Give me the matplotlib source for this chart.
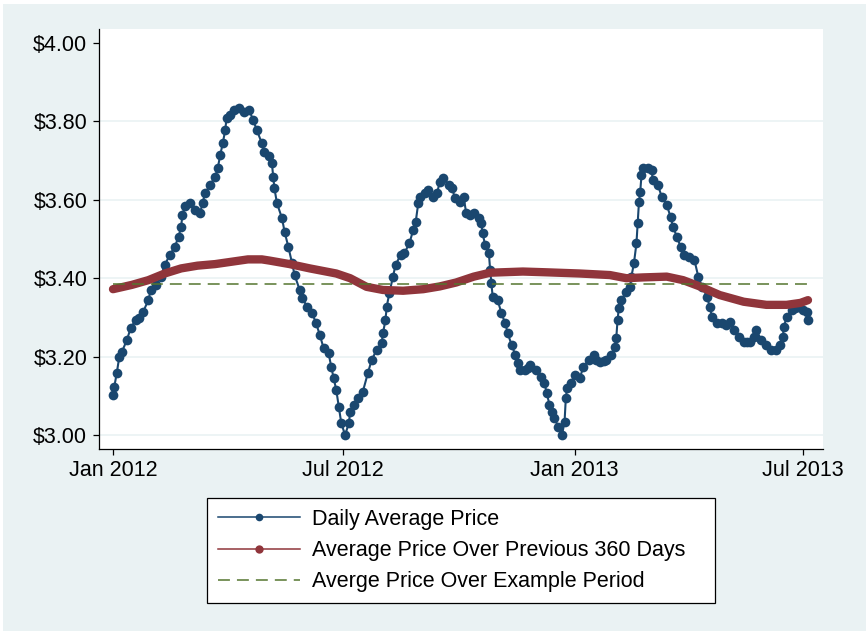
import matplotlib
matplotlib.use("Agg")
import matplotlib.pyplot as plt
import matplotlib.dates as mdates
from matplotlib.lines import Line2D
from matplotlib.patches import Rectangle
from matplotlib.ticker import FuncFormatter
import pandas as pd

plt.rcParams['font.family'] = ['Liberation Sans', 'DejaVu Sans']

start_date = "2012-01-01"

# Daily average price: day offset from start, price
daily_days = [0, 1, 3, 5, 7, 11, 14, 18, 21, 24, 28, 30, 34, 38, 41, 45, 49, 52, 54, 55,
              57, 61, 65, 69, 71, 73, 77, 81, 83, 85, 87, 89, 90, 93, 96, 100, 104, 108, 111, 114,
              118, 120, 124, 126, 127, 128, 130, 134, 136, 139, 142, 144, 148, 150, 154, 158, 161, 164, 167, 171,
              173, 175, 177, 179, 181, 184, 187, 188, 191, 194, 198, 202, 205, 209, 213, 214, 216, 217, 219, 222,
              224, 228, 231, 235, 238, 240, 242, 243, 247, 250, 254, 257, 259, 262, 266, 269, 271, 275, 278, 280,
              283, 286, 290, 292, 293, 295, 298, 299, 300, 301, 305, 308, 311, 313, 316, 319, 321, 323, 327, 329,
              331, 335, 339, 342, 344, 346, 348, 350, 353, 356, 358, 359, 360, 363, 366, 370, 373, 377, 381, 383,
              386, 389, 391, 395, 398, 399, 400, 401, 403, 407, 410, 411, 413, 415, 416, 417, 418, 419, 420, 424,
              427, 428, 432, 435, 439, 442, 444, 447, 450, 453, 457, 461, 464, 467, 471, 473, 475, 479, 483, 486,
              489, 492, 496, 500, 503, 505, 508, 510, 514, 518, 522, 526, 529, 531, 532, 534, 538, 541, 543, 547,
              550, 551]
daily_price = [3.102, 3.123, 3.158, 3.200, 3.212, 3.242, 3.273, 3.293, 3.298, 3.315, 3.344, 3.370, 3.383, 3.404, 3.434, 3.459, 3.480, 3.506, 3.531, 3.561,
               3.584, 3.591, 3.574, 3.566, 3.591, 3.617, 3.638, 3.659, 3.680, 3.714, 3.744, 3.778, 3.808, 3.816, 3.829, 3.833, 3.825, 3.829, 3.804, 3.778,
               3.744, 3.723, 3.712, 3.693, 3.659, 3.629, 3.591, 3.553, 3.519, 3.480, 3.438, 3.408, 3.370, 3.349, 3.327, 3.310, 3.285, 3.255, 3.221, 3.208,
               3.174, 3.145, 3.115, 3.072, 3.030, 3.000, 3.030, 3.059, 3.077, 3.094, 3.110, 3.157, 3.191, 3.217, 3.234, 3.259, 3.293, 3.327, 3.361, 3.404,
               3.434, 3.459, 3.464, 3.489, 3.523, 3.544, 3.591, 3.608, 3.617, 3.625, 3.608, 3.617, 3.646, 3.655, 3.638, 3.629, 3.604, 3.595, 3.608, 3.566,
               3.561, 3.566, 3.553, 3.540, 3.515, 3.485, 3.464, 3.421, 3.387, 3.353, 3.344, 3.310, 3.285, 3.259, 3.230, 3.204, 3.183, 3.166, 3.166, 3.170,
               3.179, 3.166, 3.149, 3.132, 3.106, 3.077, 3.059, 3.043, 3.021, 3.000, 3.034, 3.094, 3.119, 3.132, 3.153, 3.145, 3.174, 3.191, 3.204, 3.191,
               3.187, 3.189, 3.191, 3.204, 3.225, 3.247, 3.293, 3.323, 3.344, 3.366, 3.378, 3.404, 3.438, 3.489, 3.540, 3.595, 3.621, 3.663, 3.680, 3.680,
               3.676, 3.650, 3.638, 3.608, 3.587, 3.557, 3.531, 3.506, 3.480, 3.459, 3.455, 3.446, 3.404, 3.378, 3.353, 3.327, 3.302, 3.285, 3.285, 3.281,
               3.289, 3.268, 3.251, 3.238, 3.236, 3.238, 3.251, 3.268, 3.242, 3.230, 3.217, 3.217, 3.230, 3.251, 3.276, 3.302, 3.319, 3.325, 3.327, 3.319,
               3.315, 3.293]

# Average price over previous 360 days
avg_days = [0, 15, 28, 41, 54, 67, 81, 94, 107, 118, 124, 140, 156, 177, 188, 201, 214, 230, 246, 259,
            272, 286, 299, 325, 344, 370, 394, 407, 420, 439, 452, 466, 481, 500, 518, 534, 545, 551]
avg_price = [3.372, 3.383, 3.395, 3.412, 3.425, 3.432, 3.436, 3.442, 3.448, 3.448, 3.445, 3.436, 3.425, 3.412, 3.400, 3.378, 3.370, 3.368, 3.372, 3.379,
             3.389, 3.404, 3.414, 3.417, 3.415, 3.412, 3.408, 3.400, 3.402, 3.404, 3.395, 3.378, 3.357, 3.340, 3.332, 3.332, 3.337, 3.344]

# Average over example period
period_days = [0, 551]
period_mean = 3.386

y_ticks = [3.00, 3.20, 3.40, 3.60, 3.80, 4.00]
x_ticks = ["2012-01-01", "2012-07-01", "2013-01-01", "2013-07-01"]
legend_labels = ["Daily Average Price", "Average Price Over Previous 360 Days",
                 "Averge Price Over Example Period"]

NAVY = "#1A476F"
MAROON = "#90353B"
GREEN = "#55752F"
BG = "#EAF2F3"

t0 = pd.Timestamp(start_date)
d_dates = [t0 + pd.Timedelta(days=d) for d in daily_days]
a_dates = [t0 + pd.Timedelta(days=d) for d in avg_days]
p_dates = [t0 + pd.Timedelta(days=d) for d in period_days]

W, H = 866, 631
fig = plt.figure(figsize=(W / 100, H / 100), dpi=100, facecolor="white")
fig.patches.append(Rectangle((3 / W, 0), 1, 1 - 4 / H, transform=fig.transFigure,
                             facecolor=BG, edgecolor="none", zorder=-10))

L, R, T, B = 99, 823, 29, 449
ax = fig.add_axes([L / W, 1 - B / H, (R - L) / W, (B - T) / H])
ax.set_facecolor("white")

for y in y_ticks[:-1]:
    ax.axhline(y, color=BG, lw=1.2, zorder=0)

ax.plot(d_dates, daily_price, color=NAVY, lw=1.5, marker="o", ms=7.0,
        markeredgewidth=0, zorder=2)
ax.plot(a_dates, avg_price, color=MAROON, lw=6.0, solid_capstyle="round",
        solid_joinstyle="round", zorder=3)
ax.plot(p_dates, [period_mean] * len(p_dates), color=GREEN, lw=1.1,
        dashes=(7.8, 4.6), zorder=4)

ax.set_ylim(2.9643, 4.0357)
ax.set_xlim(t0 - pd.Timedelta(days=11.1), t0 + pd.Timedelta(days=562.9))
ax.set_yticks(y_ticks)
ax.yaxis.set_major_formatter(FuncFormatter(lambda v, p: f"${v:.2f}"))
ax.set_xticks([pd.Timestamp(x) for x in x_ticks])
ax.xaxis.set_major_formatter(mdates.DateFormatter("%b %Y"))

for s in ["top", "right"]:
    ax.spines[s].set_visible(False)
for s in ["left", "bottom"]:
    ax.spines[s].set_color("black")
    ax.spines[s].set_linewidth(0.9)
ax.tick_params(axis="both", direction="out", length=4.5, width=0.9, color="black",
               labelsize=15.5, labelcolor="black")
ax.tick_params(axis="y", pad=4)
ax.tick_params(axis="x", pad=3.5)

handles = [
    Line2D([], [], color=NAVY, lw=1.1, marker="o", ms=5.5, markeredgewidth=0),
    Line2D([], [], color=MAROON, lw=1.1, marker="o", ms=6, markeredgewidth=0),
    Line2D([], [], color=GREEN, lw=1.1, dashes=(7.8, 4.6)),
]
leg = fig.legend(handles, legend_labels, loc="upper left",
                 bbox_to_anchor=(207 / W, 1 - 498 / H, 508 / W, 0), mode="expand",
                 borderaxespad=0, fontsize=15.5, frameon=True, fancybox=False,
                 framealpha=1, handlelength=3.8, handletextpad=0.6, borderpad=0.5,
                 labelspacing=0.48, markerfirst=True)
leg.get_frame().set_edgecolor("black")
leg.get_frame().set_linewidth(0.9)
leg.get_frame().set_facecolor("white")

fig.savefig("out.png", dpi=100, facecolor=fig.get_facecolor())
